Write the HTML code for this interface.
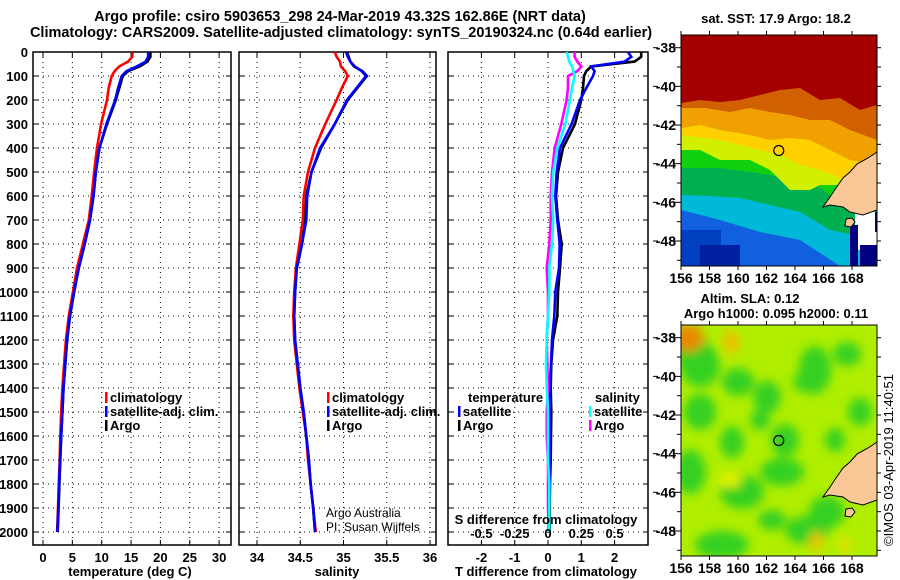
<!DOCTYPE html>
<html><head><meta charset="utf-8">
<style>
body{margin:0;background:#fff;}
svg{display:block;font-family:"Liberation Sans",sans-serif;}
.b{font-weight:bold;font-size:13px;fill:#000;}
.m{font-weight:bold;font-size:14px;fill:#000;}
.t{font-weight:bold;font-size:14.5px;fill:#000;}
.grid{stroke:#000;stroke-width:1;stroke-dasharray:1 4;}
.frame{fill:none;stroke:#000;stroke-width:1.5;}
</style></head>
<body>
<svg id="chart" width="900" height="580" viewBox="0 0 900 580">
<text class="t" x="340" y="21" text-anchor="middle">Argo profile: csiro 5903653_298 24-Mar-2019 43.32S 162.86E (NRT data)</text>
<text class="t" x="341" y="37" text-anchor="middle">Climatology: CARS2009. Satellite-adjusted climatology: synTS_20190324.nc (0.64d earlier)</text>
<g id="panels"></g>
<g id="maps"></g>
</svg>
<script>
const depths=[0,20,40,60,80,100,150,200,300,400,500,600,700,800,900,1000,1100,1200,1300,1400,1500,1600,1700,1800,1900,2000];
const tempClim=[15.3,15.2,14.5,13.0,12.2,11.7,11.2,10.9,9.9,9.2,8.7,8.3,7.8,6.8,5.8,5.1,4.4,3.9,3.6,3.3,3.1,2.95,2.85,2.7,2.55,2.4];
const tempArgo=[18.3,18.3,17.8,16.5,14.5,13.6,13.0,12.4,10.9,9.6,9.0,8.6,8.0,7.1,6.1,5.3,4.6,4.1,3.8,3.5,3.3,3.1,2.95,2.8,2.65,2.5];
const tempSat=[17.9,17.9,17.5,16.0,14.2,13.4,12.8,12.3,10.8,9.6,9.0,8.6,8.0,7.1,6.1,5.3,4.6,4.1,3.8,3.5,3.3,3.1,2.9,2.75,2.6,2.45];
const salClim=[34.90,34.92,34.96,34.97,35.02,35.05,34.98,34.92,34.79,34.67,34.59,34.54,34.53,34.49,34.45,34.43,34.42,34.43,34.46,34.49,34.53,34.57,34.59,34.62,34.65,34.68];
const salArgo=[35.04,35.06,35.08,35.12,35.22,35.27,35.16,35.05,34.90,34.74,34.63,34.57,34.56,34.52,34.46,34.44,34.43,34.44,34.47,34.50,34.54,34.57,34.60,34.62,34.65,34.67];
const salSat=[35.03,35.05,35.08,35.13,35.21,35.26,35.15,35.04,34.90,34.73,34.63,34.58,34.57,34.52,34.46,34.44,34.43,34.44,34.47,34.50,34.54,34.57,34.60,34.62,34.65,34.67];
const dTArgo=[2.8,2.8,2.6,1.3,1.15,1.08,1.05,1.0,0.81,0.45,0.3,0.24,0.3,0.41,0.36,0.3,0.28,0.15,0.1,0.08,0.1,0.09,0.08,0.06,0.05,0.05];
const dTSat=[2.4,2.5,2.3,1.3,1.4,1.35,1.15,0.96,0.71,0.36,0.26,0.22,0.28,0.35,0.33,0.22,0.19,0.12,0.09,0.05,0.07,0.07,0.06,0.05,0.04,0.03];
const dSArgo=[0.2,0.2,0.22,0.25,0.22,0.15,0.15,0.14,0.10,0.05,0.03,0.02,0.02,0.01,-0.01,0.0,0.0,-0.01,-0.005,0,-0.01,-0.01,0,0,0,0.005];
const dSSat=[0.14,0.15,0.16,0.18,0.19,0.2,0.18,0.165,0.13,0.07,0.04,0.03,0.04,0.03,0.01,0.01,0.0,-0.01,-0.015,-0.01,0,0,0,0.01,0.01,0.01];
const depthTicks=[0,100,200,300,400,500,600,700,800,900,1000,1100,1200,1300,1400,1500,1600,1700,1800,1900,2000];
const tempTicks=[0,5,10,15,20,25,30];
const salTicks=[34,34.5,35,35.5,36];
const dTTicks=[-2,-1,0,1,2];
const dSTicks=[-0.5,-0.25,0,0.25,0.5];
const dSLabels=['-0.5','-0.25','0','0.25','0.5'];

const NS='http://www.w3.org/2000/svg';
const P=document.getElementById('panels');
function mk(tag,attrs,parent,text){const e=document.createElementNS(NS,tag);for(const k in attrs)e.setAttribute(k,attrs[k]);if(text!==undefined)e.textContent=text;(parent||P).appendChild(e);return e;}
const yD=d=>52+d*0.24;
const xT=v=>43+v*5.87;
const xS=v=>257+(v-34)*86.5;
const xdT=v=>548+v*33.3;
const xdS=v=>548+v*133.2;
const TOP=52,BOT=545;

function panel(name,x0,x1,xs,ticks,xf,showDepth){
  const g=mk('g',{});
  
  
  depthTicks.forEach(d=>{
    const l=mk('line',{x1:x0,x2:x1,y1:yD(d),y2:yD(d),class:'grid'},g);
    
    
    mk('line',{x1:x0,x2:x0+5,y1:yD(d),y2:yD(d),stroke:'#000'},g);
    mk('line',{x1:x1-5,x2:x1,y1:yD(d),y2:yD(d),stroke:'#000'},g);
    if(showDepth){const t=mk('text',{x:28,y:yD(d)+5,class:'b','text-anchor':'end'},g,String(d));
      
      }
  });
  ticks.forEach(v=>{
    const l=mk('line',{x1:xf(v),x2:xf(v),y1:TOP,y2:BOT,class:'grid'},g);
    
    
    mk('line',{x1:xf(v),x2:xf(v),y1:BOT-5,y2:BOT,stroke:'#000'},g);
    mk('line',{x1:xf(v),x2:xf(v),y1:TOP,y2:TOP+5,stroke:'#000'},g);
  });
  const r=mk('rect',{x:x0,y:TOP,width:x1-x0,height:BOT-TOP,class:'frame'},g);
  
  
  return g;
}
function line(g,name,xs,xf,color,w){
  const pts=depths.map((d,i)=>xf(xs[i]).toFixed(1)+','+yD(d).toFixed(1)).join(' ');
  const p=mk('polyline',{points:pts,fill:'none',stroke:color,'stroke-width':w||2.6,'stroke-linejoin':'miter'},g);
  
  
}
function txt(g,name,x,y,s,cls,anchor,extra){
  const t=mk('text',Object.assign({x:x,y:y,class:cls||'b','text-anchor':anchor||'start'},extra||{}),g,s);
  
  
  return t;
}
function legend(g,x,y,items){
  items.forEach((it,i)=>{
    const m=mk('rect',{x:x,y:y+i*14-10,width:2.5,height:11,fill:it[1]},g);
    
    
    txt(g,'legend-entry',x+5,y+i*14,it[0]);
  });
}

const g1=panel('temperature-panel',33,231,null,tempTicks,xT,true);
line(g1,'temp-climatology-line',tempClim,xT,'#ff0000');
line(g1,'temp-argo-line',tempArgo,xT,'#000000');
line(g1,'temp-satellite-line',tempSat,xT,'#0000ff');
tempTicks.forEach(v=>txt(g1,'temp-tick-label',xT(v),562,String(v),'b','middle'));
txt(g1,'temp-axis-title',130,576,'temperature (deg C)','b','middle');
legend(g1,105,402,[['climatology','#ff0000'],['satellite-adj. clim.','#0000ff'],['Argo','#000000']]);

const g2=panel('salinity-panel',239,436,null,salTicks,xS,false);
line(g2,'sal-climatology-line',salClim,xS,'#ff0000');
line(g2,'sal-argo-line',salArgo,xS,'#000000');
line(g2,'sal-satellite-line',salSat,xS,'#0000ff');
salTicks.forEach(v=>txt(g2,'sal-tick-label',xS(v),562,String(v),'b','middle'));
txt(g2,'sal-axis-title',337,576,'salinity','b','middle');
legend(g2,327,402,[['climatology','#ff0000'],['satellite-adj. clim.','#0000ff'],['Argo','#000000']]);
txt(g2,'credit-argo-australia',326,517,'Argo Australia','b','start',{style:'font-weight:normal;font-size:12px'});
txt(g2,'credit-pi',326,531,'PI: Susan Wijffels','b','start',{style:'font-weight:normal;font-size:12px'});

const g3=panel('difference-panel',448,648,null,dTTicks,xdT,false);
line(g3,'dT-argo-line',dTArgo,xdT,'#000000');
line(g3,'dT-satellite-line',dTSat,xdT,'#0000ff');
line(g3,'dS-argo-line',dSArgo,xdS,'#ff00ff');
line(g3,'dS-satellite-line',dSSat,xdS,'#00ffff');
dTTicks.forEach(v=>txt(g3,'dT-tick-label',xdT(v),562,String(v),'b','middle'));
txt(g3,'dT-axis-title',546,576,'T difference from climatology','b','middle');
dSTicks.forEach((v,i)=>txt(g3,'dS-tick-label',xdS(v),538,dSLabels[i],'b','middle'));
txt(g3,'dS-axis-title',546,524,'S difference from climatology','b','middle');
txt(g3,'legend-temperature-heading',468,402,'temperature');
legend(g3,458,416,[['satellite','#0000ff'],['Argo','#000000']]);
txt(g3,'legend-salinity-heading',595,402,'salinity');
legend(g3,589,416,[['satellite','#00ffff'],['Argo','#ff00ff']]);
</script>

<script>
const M=document.getElementById('maps');
const NS2='http://www.w3.org/2000/svg';
function el(tag,a,p,t){const e=document.createElementNS(NS2,tag);for(const k in a)e.setAttribute(k,a[k]);if(t!==undefined)e.textContent=t;(p||M).appendChild(e);return e;}
const lonTicks=[156,158,160,162,164,166,168];
const latTicks=[-38,-40,-42,-44,-46,-48];
const argoLon=162.86, argoLat=-43.32;
const xL=lon=>681+(lon-156)*14.25;
function mapAxes(g,top,bot,yLat){
  lonTicks.forEach(v=>{
    el('line',{x1:xL(v),x2:xL(v),y1:bot,y2:bot+4,stroke:'#000'},g);
    el('line',{x1:xL(v),x2:xL(v),y1:top-4,y2:top,stroke:'#000'},g);
    const t=el('text',{x:xL(v),y:bot+17,class:'m','text-anchor':'middle'},g,String(v));
    
    
  });
  for(let lat=-38;lat>=-49;lat--){
    el('line',{x1:lat%2==0?674:677,x2:681,y1:yLat(lat),y2:yLat(lat),stroke:'#000'},g);
    el('line',{x1:877,x2:881,y1:yLat(lat),y2:yLat(lat),stroke:'#000'},g);
  }
  latTicks.forEach(v=>{
    const t=el('text',{x:676,y:yLat(v)+5,class:'m','text-anchor':'end'},g,String(v));
    
    
  });
}
function land(g,dy){
  const p=el('polygon',{points:`877,${152+dy} 868,${158+dy} 857,${164+dy} 850,${172+dy} 843,${178+dy} 836,${188+dy} 830,${197+dy} 823,${207+dy} 830,${205+dy} 843,${207+dy} 850,${212+dy} 863,${215+dy} 877,${210+dy}`,fill:'#f9c896',stroke:'#000','stroke-width':1},g);
  
  
  el('polygon',{points:`846,${219+dy} 852,${218+dy} 855,${222+dy} 851,${227+dy} 845,${226+dy}`,fill:'#f9c896',stroke:'#000','stroke-width':1},g);
}
function circle(g,yLat){
  const c=el('circle',{cx:xL(argoLon),cy:yLat(argoLat),r:5,fill:'none',stroke:'#000','stroke-width':1.2},g);
  
  
}

const y1=lat=>47.7+(-38-lat)*19.33;
const gs=el('g',{});


const d1=el('defs',{},gs);
const cp1=el('clipPath',{id:'c1'},d1);
el('rect',{x:681,y:35,width:196,height:231},cp1);
const gc=el('g',{'clip-path':'url(#c1)'},gs);
el('rect',{x:681,y:35,width:196,height:231,fill:'#1060e0'},gc);
el('polygon',{points:'681,35 877,35 877,266 840,266 800,240 760,232 720,220 681,210',fill:'#00b8d8'},gc);
el('polygon',{points:'681,35 877,35 877,240 830,230 800,212 770,205 740,198 710,196 681,195',fill:'#00b050'},gc);
el('polygon',{points:'681,35 877,35 877,200 830,195 810,180 790,178 770,175 750,172 720,168 681,168',fill:'#10d010'},gc);
el('polygon',{points:'681,35 877,35 877,185 820,185 810,190 790,190 770,170 750,160 720,160 700,150 681,150',fill:'#d0f000'},gc);
el('polygon',{points:'681,35 877,35 877,175 840,178 820,170 800,165 780,155 760,150 740,145 720,140 681,135',fill:'#ffd000'},gc);
el('polygon',{points:'681,35 877,35 877,165 850,160 830,150 810,140 790,138 770,140 750,135 720,130 700,125 681,128',fill:'#f0a000'},gc);
el('polygon',{points:'681,35 877,35 877,140 850,130 830,120 810,120 790,115 770,112 750,108 730,112 705,108 681,108',fill:'#d06000'},gc);
el('polygon',{points:'681,35 877,35 877,105 860,110 840,98 820,100 800,88 780,90 760,95 740,100 720,102 700,100 681,103',fill:'#a50000'},gc);
el('rect',{x:681,y:230,width:40,height:36,fill:'#0040c0'},gc);
el('rect',{x:700,y:245,width:40,height:21,fill:'#0020a0'},gc);
el('rect',{x:855,y:212,width:22,height:38,fill:'#ffffff'},gc);
el('rect',{x:850,y:225,width:8,height:41,fill:'#000080'},gc);
el('rect',{x:860,y:245,width:17,height:21,fill:'#000080'},gc);
el('rect',{x:875,y:212,width:3,height:20,fill:'#000080'},gc);
land(gc,0);
circle(gs,y1);
el('rect',{x:681,y:35,width:196,height:231,fill:'none',stroke:'#000','stroke-width':1},gs);
mapAxes(gs,35,266,y1);
const st=el('text',{x:776,y:23,class:'b','text-anchor':'middle'},gs,'sat. SST: 17.9 Argo: 18.2');



const y2=lat=>337.7+(-38-lat)*19.33;
const ga=el('g',{});


const defs=el('defs',{},ga);
const cp=el('clipPath',{id:'c2'},defs);
el('rect',{x:681,y:325,width:196,height:231},cp);
const f=el('filter',{id:'bl',x:'-50%',y:'-50%',width:'200%',height:'200%'},defs);
el('feGaussianBlur',{stdDeviation:5},f);
const ac=el('g',{'clip-path':'url(#c2)'},ga);
el('rect',{x:681,y:325,width:196,height:231,fill:'#b0ee00'},ac);
const bl=el('g',{filter:'url(#bl)'},ac);
const greens=[[690,350,22,14],[700,365,20,22],[738,382,16,14],[767,397,14,16],[815,370,16,24],[700,412,16,18],[785,440,14,16],[805,382,12,10],[690,472,16,22],[742,492,22,17],[782,472,22,14],[722,545,27,14],[827,512,18,16],[860,482,14,16],[807,530,22,14],[860,412,12,14],[847,354,14,12],[732,442,12,16],[772,520,14,10],[760,420,10,10],[835,440,10,12]];
greens.forEach(e=>el('ellipse',{cx:e[0],cy:e[1],rx:e[2],ry:e[3],fill:'#34d024'},bl));
el('ellipse',{cx:688,cy:338,rx:16,ry:14,fill:'#e88a00'},bl);
el('ellipse',{cx:731,cy:342,rx:8,ry:12,fill:'#f0c000'},bl);
el('ellipse',{cx:816,cy:541,rx:6,ry:10,fill:'#f0c000'},bl);
el('ellipse',{cx:845,cy:545,rx:6,ry:8,fill:'#e8e000'},bl);
el('ellipse',{cx:730,cy:480,rx:12,ry:8,fill:'#e0f000'},bl);
land(ac,290);
circle(ga,y2);
el('rect',{x:681,y:325,width:196,height:231,fill:'none',stroke:'#000','stroke-width':1},ga);
mapAxes(ga,325,556,y2);
const s1=el('text',{x:750,y:303,class:'b','text-anchor':'middle'},ga,'Altim. SLA: 0.12');


const s2=el('text',{x:776,y:318,class:'b','text-anchor':'middle'},ga,'Argo h1000: 0.095 h2000: 0.11');


const cr=el('text',{x:0,y:0,'font-size':'13','text-anchor':'middle',transform:'translate(893,460) rotate(-90)'},ga,'©IMOS 03-Apr-2019 11:40:51');


// small ticks left of map labels (even latitudes)
latTicks.forEach(v=>{el('line',{x1:653,x2:658,y1:y1(v),y2:y1(v),stroke:'#000'},M);el('line',{x1:653,x2:658,y1:y2(v),y2:y2(v),stroke:'#000'},M);});
</script>
</body></html>
